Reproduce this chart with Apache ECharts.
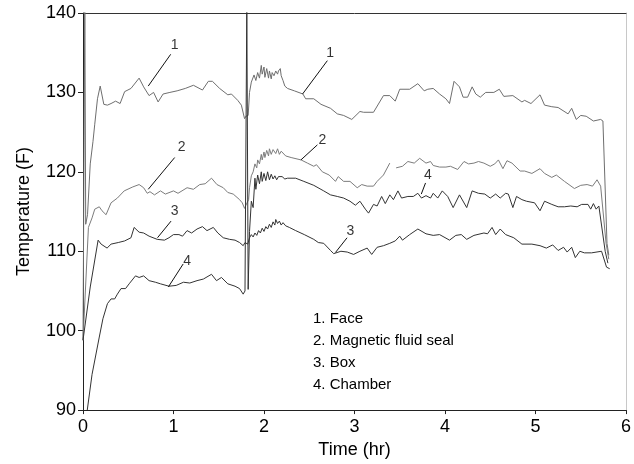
<!DOCTYPE html>
<html>
<head>
<meta charset="utf-8">
<script src="https://cdn.jsdelivr.net/npm/echarts@6/dist/echarts.min.js"></script>
<style>
  html, body { margin: 0; padding: 0; background: #fff; }
  #chart { width: 634px; height: 464px; }
</style>
</head>
<body>
<div id="chart"></div>
<script>
// Temperature records (time in hours, temperature in °F)
const face = [
  [0,98.8],[0.02,141],[0.03,113.4],[0.05,114.6],[0.08,121],[0.11,123.8],[0.13,126],[0.16,129.2],[0.19,130.8],
  [0.23,128.5],[0.27,128.4],[0.31,128.6],[0.36,128.9],[0.41,128.6],[0.46,130.1],[0.53,130.5],[0.62,131.8],
  [0.67,130.7],[0.73,129.6],[0.78,130.0],[0.83,128.8],[0.885,129.8],[0.96,130.0],[1.04,130.2],[1.13,130.5],
  [1.22,130.9],[1.32,130.3],[1.385,131.4],[1.43,131.4],[1.51,130.5],[1.60,129.7],[1.64,129.8],[1.71,129.0],
  [1.75,128.4],[1.785,126.7],[1.80,127.0],[1.825,127.1],[1.84,130.0],[1.86,131.3],[1.875,131.5],[1.89,132.2],
  [1.91,131.5],[1.93,132.5],[1.95,131.8],[1.97,133.4],[1.98,132.3],[2.00,133.2],[2.01,131.9],[2.03,133.0],
  [2.05,131.8],[2.06,132.7],[2.08,131.7],[2.09,132.5],[2.11,132.1],[2.13,132.7],[2.15,132.3],[2.16,132.7],
  [2.18,133.0],[2.19,132.1],[2.21,131.5],[2.23,130.8],[2.26,130.5],[2.335,130.2],[2.43,129.8],[2.46,129.2],
  [2.55,129.2],[2.63,128.5],[2.735,128.0],[2.81,127.3],[2.88,127.1],[2.97,126.6],[3.06,127.6],[3.10,127.5],
  [3.21,127.5],[3.32,129.6],[3.39,129.6],[3.45,128.9],[3.50,130.4],[3.61,130.4],[3.70,131.1],[3.77,130.2],
  [3.81,130.4],[3.87,130.5],[3.94,129.8],[4.01,129.2],[4.05,128.6],[4.10,131.4],[4.16,130.7],[4.20,129.4],
  [4.25,129.4],[4.30,130.7],[4.34,129.8],[4.39,129.4],[4.45,130.0],[4.54,130.0],[4.60,130.4],[4.65,129.5],
  [4.75,129.6],[4.85,128.8],[4.88,129.0],[4.95,128.6],[5.05,129.7],[5.10,128.4],[5.18,128.2],[5.25,128.1],
  [5.36,127.3],[5.40,128.0],[5.45,126.6],[5.50,127.1],[5.56,127.0],[5.64,126.4],[5.72,126.6],[5.745,126.4],
  [5.79,111],[5.81,109.5]
];

const magneticSeal = [
  [0,98.8],[0.06,113],[0.10,114.2],[0.13,115.3],[0.15,115.1],[0.18,115.6],[0.21,115.1],[0.255,114.6],
  [0.31,116.1],[0.38,116.7],[0.455,117.6],[0.55,118.1],[0.62,118.4],[0.67,118.0],[0.71,117.3],[0.74,117.5],
  [0.79,117.1],[0.856,117.6],[0.91,117.2],[1.0,117.6],[1.05,117.3],[1.15,118.0],[1.22,117.8],[1.29,118.4],
  [1.35,118.5],[1.42,119.2],[1.48,118.4],[1.55,118.0],[1.60,117.4],[1.66,117.2],[1.73,116.5],[1.76,116.1],
  [1.785,115.4],[1.80,115.8],[1.83,116.5],[1.84,118.0],[1.86,119.5],[1.88,120.0],[1.90,121.0],[1.92,120.5],
  [1.93,121.5],[1.95,121.0],[1.97,122.2],[1.98,121.5],[2.00,122.5],[2.01,121.8],[2.03,122.7],[2.05,122.0],
  [2.06,122.9],[2.08,122.2],[2.10,122.8],[2.12,123.0],[2.13,122.3],[2.15,122.9],[2.17,122.2],[2.19,122.6],
  [2.21,122.4],[2.24,122.0],[2.26,121.9],[2.30,121.8],[2.41,121.5],[2.48,121.1],[2.55,120.7],[2.58,120.9],
  [2.645,120.0],[2.72,119.6],[2.79,118.8],[2.82,119.4],[2.88,118.8],[2.95,118.8],[3.03,118.0],[3.08,118.4],
  [3.14,118.2],[3.21,118.2],[3.25,118.8],[3.32,119.6],[3.39,121.1],[3.42,'-'],[3.46,120.5],[3.53,120.7],
  [3.59,121.3],[3.66,121.1],[3.72,121.7],[3.79,121.1],[3.84,121.3],[3.87,120.8],[3.94,120.6],[4.01,120.6],
  [4.06,120.7],[4.14,120.3],[4.21,121.3],[4.26,121.0],[4.32,121.1],[4.37,121.3],[4.43,121.1],[4.50,120.7],
  [4.55,121.0],[4.59,121.5],[4.64,120.4],[4.685,121.4],[4.74,121.1],[4.83,120.1],[4.88,120.1],[4.96,119.8],
  [5.05,120.4],[5.10,119.8],[5.18,119.3],[5.23,119.6],[5.32,118.8],[5.43,117.9],[5.50,118.3],[5.57,118.4],
  [5.63,118.2],[5.68,119.0],[5.72,118.2],[5.78,111],[5.81,109]
];

const box = [
  [0,98.8],[0.08,105.5],[0.167,111.4],[0.20,110.9],[0.266,110.4],[0.31,110.9],[0.39,111.1],[0.46,111.3],
  [0.53,111.7],[0.565,113.0],[0.62,112.4],[0.67,112.3],[0.73,111.9],[0.82,111.5],[0.90,111.4],[0.95,111.7],
  [1.0,112.1],[1.06,112.1],[1.10,111.9],[1.15,112.6],[1.20,112.3],[1.26,112.8],[1.32,113.1],[1.37,112.6],
  [1.44,113.0],[1.49,112.3],[1.55,111.7],[1.62,111.5],[1.68,111.4],[1.73,111.1],[1.77,110.7],[1.79,111.1],
  [1.82,110.9],[1.84,111.7],[1.86,112.1],[1.88,111.8],[1.90,112.3],[1.92,112.0],[1.94,112.6],[1.96,112.3],
  [1.98,112.9],[2.00,112.5],[2.02,113.1],[2.04,112.8],[2.06,113.4],[2.08,113.0],[2.10,113.7],[2.12,113.3],
  [2.13,114.0],[2.15,113.5],[2.17,113.8],[2.19,113.3],[2.21,113.6],[2.24,113.2],[2.28,113.0],[2.35,112.6],
  [2.445,112.1],[2.55,111.5],[2.60,111.1],[2.66,111.0],[2.735,110.1],[2.77,109.7],[2.85,110.0],[2.92,109.9],
  [2.99,109.6],[3.06,110.0],[3.14,110.4],[3.19,109.6],[3.25,110.5],[3.32,110.7],[3.39,111.0],[3.45,111.3],
  [3.50,111.9],[3.53,111.4],[3.61,112.1],[3.70,112.8],[3.79,112.2],[3.87,112.0],[3.94,112.1],[4.05,111.4],
  [4.12,112.0],[4.18,112.1],[4.24,111.5],[4.32,112.0],[4.43,112.3],[4.47,112.2],[4.52,113.0],[4.56,112.1],
  [4.61,112.8],[4.67,112.1],[4.76,111.7],[4.85,110.9],[4.96,110.9],[5.05,110.7],[5.12,110.4],[5.19,110.8],
  [5.25,110.1],[5.31,110.5],[5.35,109.9],[5.40,110.5],[5.44,109.2],[5.49,110.0],[5.54,109.8],[5.62,109.8],
  [5.73,110.0],[5.785,108.0],[5.82,107.8]
];

const chamber = [
  [0.047,90],[0.10,94.5],[0.18,99.2],[0.22,101.5],[0.27,103.4],[0.31,104.0],[0.35,104.0],[0.38,104.6],
  [0.42,105.3],[0.47,105.3],[0.51,105.9],[0.58,106.9],[0.62,106.7],[0.67,106.9],[0.73,106.3],[0.80,106.1],
  [0.856,105.9],[0.95,105.6],[1.03,105.7],[1.11,106.1],[1.18,106.0],[1.26,106.3],[1.33,106.5],[1.42,107.1],
  [1.475,106.3],[1.53,106.7],[1.60,105.9],[1.68,105.6],[1.73,105.3],[1.77,104.6],[1.79,105.0],[1.805,105.2],
  [1.81,141],[1.82,141],[1.825,105.2],[1.84,112.5],[1.86,116.3],[1.88,115.5],[1.90,119.2],[1.91,117.8],
  [1.93,119.6],[1.95,118.5],[1.97,120.0],[1.98,118.8],[2.00,119.8],[2.02,118.9],[2.04,120.0],[2.06,119.0],
  [2.08,119.7],[2.10,119.1],[2.12,119.5],[2.14,119.0],[2.16,119.4],[2.18,119.2],[2.20,119.4],[2.23,119.1],
  [2.26,119.2],[2.35,119.2],[2.44,118.8],[2.55,118.3],[2.66,117.6],[2.735,117.1],[2.81,116.9],[2.88,116.7],
  [2.95,116.3],[3.01,115.8],[3.06,116.3],[3.12,115.3],[3.155,114.8],[3.21,115.9],[3.25,115.7],[3.30,116.9],
  [3.34,116.0],[3.39,117.1],[3.43,116.5],[3.48,117.6],[3.52,116.7],[3.59,116.9],[3.65,116.9],[3.70,117.3],
  [3.74,116.7],[3.79,117.0],[3.84,116.7],[3.87,117.3],[3.92,116.7],[3.97,117.6],[4.03,116.9],[4.09,115.5],
  [4.16,117.1],[4.18,117.3],[4.24,115.5],[4.30,117.6],[4.37,117.3],[4.44,117.2],[4.50,116.7],[4.56,117.2],
  [4.61,116.7],[4.67,117.3],[4.70,117.2],[4.75,115.5],[4.79,116.9],[4.85,116.5],[4.90,116.3],[4.99,116.1],
  [5.05,115.1],[5.10,116.3],[5.18,115.9],[5.25,115.6],[5.32,115.6],[5.39,115.7],[5.46,115.6],[5.51,115.9],
  [5.58,115.9],[5.61,115.3],[5.64,116.0],[5.67,115.3],[5.70,115.7],[5.77,110],[5.80,108.5]
];

// Callout leader lines (from number to curve) and number positions, in data units
const faceCallouts = [[[0.969,134.8],[0.721,130.8]], [[2.70,134.0],[2.426,129.8]]];
const sealCallouts = [[[1.013,121.8],[0.721,117.8]], [[2.59,123.4],[2.408,121.5]]];
const boxCallouts = [[[0.973,113.8],[0.823,111.7]], [[2.918,111.7],[2.79,109.85]]];
const chamberCallouts = [[[1.107,108.4],[0.943,105.5]], [[3.785,118.6],[3.738,117.2]]];
const calloutNumbers = [
  [1.013,135.9,'1'],[2.732,135.0,'1'],
  [1.09,123.1,'2'],[2.645,124.0,'2'],
  [1.013,115.1,'3'],[2.954,112.5,'3'],
  [1.151,108.8,'4'],[3.81,119.6,'4']
];

const xTicks = [0, 1, 2, 3, 4, 5, 6];
const yTicks = [90, 100, 110, 120, 130, 140];
const legendLines = ['1. Face', '2. Magnetic fluid seal', '3. Box', '4. Chamber'];

const FONT = '"Liberation Sans", Arial, Helvetica, sans-serif';

function leader(pairs) {
  return {
    silent: true,
    symbol: ['none', 'none'],
    label: { show: false },
    lineStyle: { color: '#111', width: 1, type: 'solid' },
    emphasis: { disabled: true },
    data: pairs.map(p => [{ coord: p[0] }, { coord: p[1] }])
  };
}

function curve(name, data, color, callouts) {
  return {
    name: name,
    type: 'line',
    data: data,
    showSymbol: false,
    symbol: 'none',
    connectNulls: false,
    clip: true,
    lineStyle: { color: color, width: 1 },
    markLine: leader(callouts),
    z: 3
  };
}

const chart = echarts.init(document.getElementById('chart'), null, { renderer: 'canvas' });
chart.setOption({
  animation: false,
  backgroundColor: '#fff',
  textStyle: { fontFamily: FONT },
  grid: { left: 83, right: 2, top: 13, bottom: 50, containLabel: false },
  xAxis: [{
    type: 'value', min: xTicks[0], max: xTicks[xTicks.length - 1], interval: 1,
    name: 'Time (hr)', nameLocation: 'middle', nameGap: 22,
    nameTextStyle: { fontSize: 18, color: '#000', fontFamily: FONT },
    axisLine: { show: true, lineStyle: { color: '#222', width: 1 } },
    axisTick: { show: true, length: 4, inside: false, lineStyle: { color: '#222' } },
    axisLabel: { fontSize: 18, color: '#000', margin: 8, fontFamily: FONT },
    splitLine: { show: false }
  }, {
    type: 'value', position: 'top', min: 0, max: 6,
    axisLine: { show: true, onZero: false, lineStyle: { color: '#333', width: 1 } },
    axisTick: { show: false }, axisLabel: { show: false }, splitLine: { show: false }
  }],
  yAxis: [{
    type: 'value', min: yTicks[0], max: yTicks[yTicks.length - 1], interval: 10,
    name: 'Temperature (F)', nameLocation: 'middle', nameGap: 50, nameRotate: 90,
    nameTextStyle: { fontSize: 18, color: '#000', fontFamily: FONT },
    axisLine: { show: true, lineStyle: { color: '#222', width: 1 } },
    axisTick: { show: true, length: 5, inside: false, lineStyle: { color: '#222' } },
    axisLabel: { fontSize: 18, color: '#000', margin: 7, fontFamily: FONT },
    splitLine: { show: false }
  }, {
    type: 'value', position: 'right', min: 90, max: 140,
    axisLine: { show: true, onZero: false, lineStyle: { color: '#c8c8c8', width: 1 } },
    axisTick: { show: false }, axisLabel: { show: false }, splitLine: { show: false }
  }],
  graphic: [{
    type: 'text', left: 313, top: 308, silent: true,
    style: {
      text: legendLines.join('\n'), fill: '#000',
      font: '15px ' + FONT, lineHeight: 22
    }
  }],
  series: [
    curve('Face', face, '#6e6e6e', faceCallouts),
    curve('Magnetic fluid seal', magneticSeal, '#7c7c7c', sealCallouts),
    curve('Box', box, '#333', boxCallouts),
    curve('Chamber', chamber, '#333', chamberCallouts),
    {
      name: 'callout numbers', type: 'scatter', data: calloutNumbers,
      symbolSize: 0, silent: true, z: 5,
      label: {
        show: true, position: 'inside', formatter: p => p.data[2],
        fontSize: 14, color: '#000', fontFamily: FONT
      }
    }
  ]
});
</script>
</body>
</html>
